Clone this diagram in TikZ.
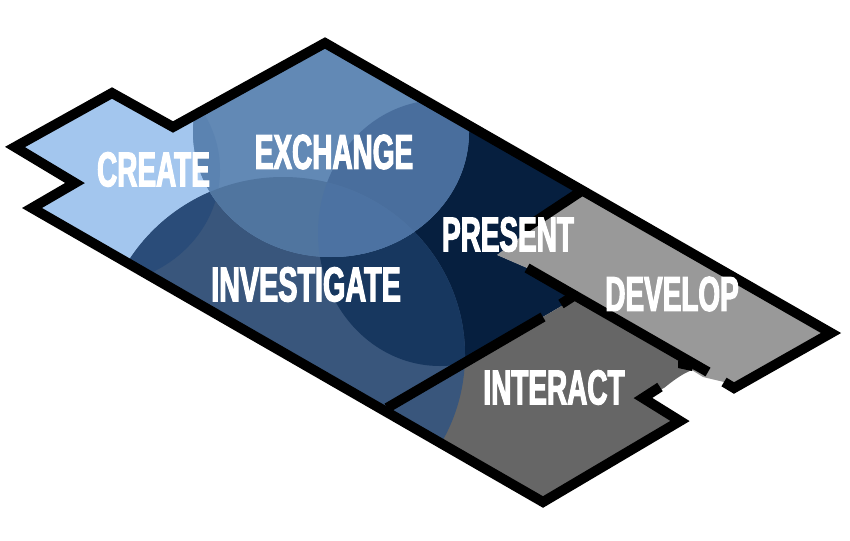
\documentclass[tikz,border=0pt]{standalone}
\usepackage{fontspec}
\usetikzlibrary{positioning}
\newfontfamily\roomfont[FakeStretch=0.57,FakeBold=2.2]{Liberation Sans}

\definecolor{createblue}{HTML}{A3C6EE}
\definecolor{createexch}{HTML}{5B83B1}
\definecolor{exchblue}{HTML}{6289B5}
\definecolor{exchpres}{HTML}{496E9D}
\definecolor{exchinv}{HTML}{50759F}
\definecolor{exchall}{HTML}{4C72A2}
\definecolor{invblue}{HTML}{39567C}
\definecolor{invcreate}{HTML}{2A4C79}
\definecolor{invpres}{HTML}{17375F}
\definecolor{presnavy}{HTML}{061F3F}
\definecolor{developgrey}{HTML}{999999}
\definecolor{interactgrey}{HTML}{666666}

\def\createring{(95,170) ellipse (125pt and 115pt)}
\def\exchring{(331,132) ellipse (138pt and 125pt)}
\def\invring{(283,355) ellipse (182pt and 178pt)}
\def\presring{(440,233) ellipse (122pt and 133pt)}

\begin{document}
\begin{tikzpicture}[x=1pt,y=-1pt,
		wall/.style = {draw=black,line width=10pt,line join=miter},
		roomtext/.style = {text=white,inner sep=0pt,font=\roomfont\bfseries\fontsize{49}{49}\selectfont}
	]
	\useasboundingbox (0,0) rectangle (850,540);

	% the blue room and its circles
	\begin{scope}
		\clip (15,147) -- (112,93) -- (173,127) -- (325,43) -- (580,192) -- (497,255) -- (527,268)
			-- (572,294) -- (565,304) -- (387,408) -- (32,208) -- (75,183) -- cycle;
		\fill[createblue] (0,0) rectangle (850,540);
		\fill[presnavy] (440,90) rectangle (600,370);
		\fill[presnavy] \presring;
		\fill[invblue] \invring;
		\begin{scope}
			\clip \invring;
			\fill[invcreate] \createring;
			\fill[invpres] \presring;
		\end{scope}
		\fill[exchblue] \exchring;
		\begin{scope}
			\clip \exchring;
			\fill[createexch] \createring;
			\fill[exchpres] \presring;
			\fill[exchinv] \invring;
			\clip \invring;
			\fill[exchall] \presring;
		\end{scope}
	\end{scope}

	% the two grey rooms
	\fill[developgrey] (580,192) -- (831,333) -- (734,388) -- (724,382) -- (703,377) -- (527,268) -- (497,255) -- cycle;
	\begin{scope}
		\clip (565,304) -- (572,294) -- (707,372) -- (692,370) .. controls (682,374) and (674,380) .. (664,388)
			-- (643,398) -- (680,421) -- (543,502) -- (387,408) -- cycle;
		\fill[interactgrey] (380,290) rectangle (720,510);
		\fill[invblue] \invring;
	\end{scope}

	% walls
	\draw[wall] (660,387) -- (643,398) -- (680,421) -- (543,502) -- (32,208) -- (75,183) -- (15,147)
		-- (112,93) -- (173,127) -- (325,43) -- (831,333) -- (734,388) -- (724,382);
	\draw[wall] (527,268) -- (708,372);
	\draw[wall] (580,192) -- (524,229);
	\draw[wall] (543,317) -- (387,408);
	\draw[wall] (572,297) -- (561,304);
	\fill[black] (678,361) -- (678,368) -- (692,371) -- (692,362) -- cycle;

	% labels
	\node[roomtext] (create) at (153.5,169.5) {CREATE};
	\node[roomtext] (exchange) at (334,152) {EXCHANGE};
	\node[roomtext,xscale=1.03,transform shape] (investigate) at (306,284.5) {INVESTIGATE};
	\node[roomtext] (present) at (508,234.5) {PRESENT};
	\node[roomtext] (develop) at (672,294) {DEVELOP};
	\node[roomtext] (interact) at (554,387.5) {INTERACT};
\end{tikzpicture}
\end{document}
